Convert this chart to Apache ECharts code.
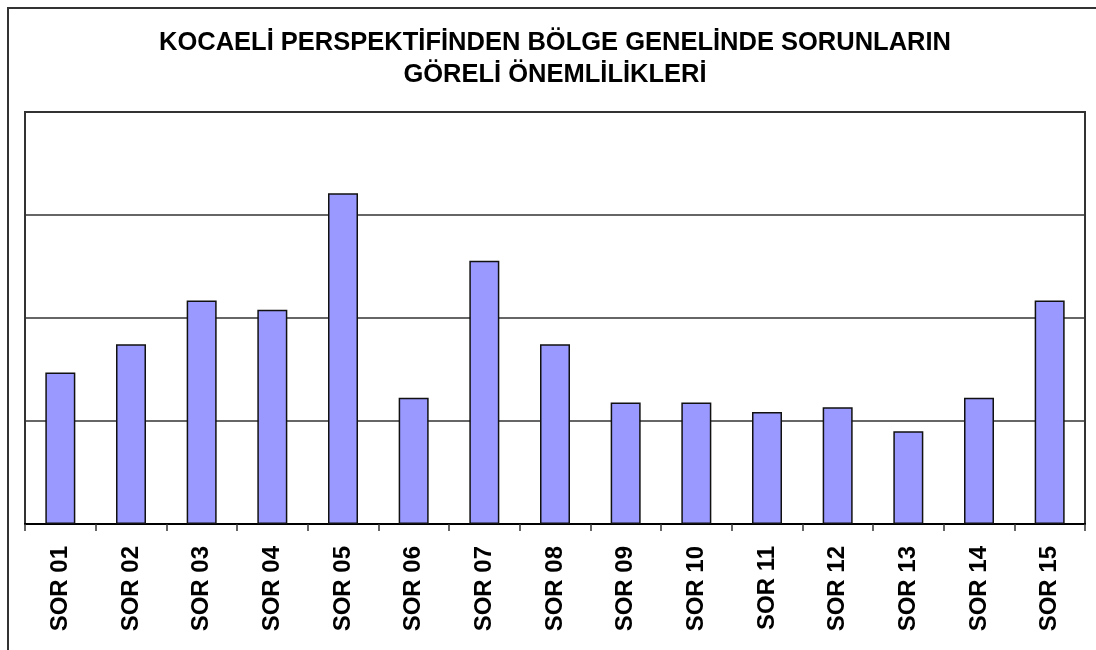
<!DOCTYPE html>
<html>
<head>
<meta charset="utf-8">
<script src="https://cdn.jsdelivr.net/npm/echarts@6/dist/echarts.min.js"></script>
<style>
  html, body { margin: 0; padding: 0; background: #fff; }
  #chart { width: 1096px; height: 650px; }
</style>
</head>
<body>
<div id="chart"></div>
<script>
const categories = ['SOR 01', 'SOR 02', 'SOR 03', 'SOR 04', 'SOR 05', 'SOR 06', 'SOR 07', 'SOR 08',
  'SOR 09', 'SOR 10', 'SOR 11', 'SOR 12', 'SOR 13', 'SOR 14', 'SOR 15']
const values = [1.47, 1.745, 2.17, 2.08, 3.21, 1.226, 2.556, 1.745, 1.18, 1.18, 1.087, 1.133, 0.90, 1.226, 2.17]
const titleText = 'KOCAELİ PERSPEKTİFİNDEN BÖLGE GENELİNDE SORUNLARIN\nGÖRELİ ÖNEMLİLİKLERİ'

const chart = echarts.init(document.getElementById('chart'))

const option = {
  backgroundColor: '#fff',
  animation: false,
  title: {
    text: titleText,
    left: 555,
    top: 27,
    padding: 0,
    textAlign: 'center',
    textStyle: {
      fontFamily: 'Liberation Sans, Arial, sans-serif',
      fontWeight: 'bold',
      fontSize: 25.5,
      lineHeight: 32,
      color: '#000'
    }
  },
  graphic: [{
    type: 'rect',
    silent: true,
    shape: { x: 8, y: 8, width: 1200, height: 800 },
    style: { fill: 'none', stroke: '#333', lineWidth: 2 }
  }],
  grid: {
    left: 25, right: 11, top: 112, bottom: 126,
    show: true,
    backgroundColor: '#fff',
    borderColor: '#333',
    borderWidth: 2
  },
  xAxis: {
    type: 'category',
    data: categories,
    axisLine: { lineStyle: { color: '#000', width: 2 } },
    axisTick: { show: true, length: 7, lineStyle: { color: '#333', width: 1.5 } },
    axisLabel: {
      interval: 0,
      rotate: 90,
      margin: 22,
      fontFamily: 'Liberation Sans, Arial, sans-serif',
      fontWeight: 'bold',
      fontSize: 24,
      color: '#000'
    }
  },
  yAxis: {
    type: 'value',
    min: 0, max: 4, interval: 1,
    axisLabel: { show: false },
    axisLine: { show: false },
    axisTick: { show: false },
    splitLine: { lineStyle: { color: '#333', width: 1.5 } }
  },
  series: [{
    type: 'bar',
    data: values,
    barWidth: 30,
    itemStyle: {
      color: '#9999ff',
      borderColor: '#111',
      borderWidth: 1.5
    }
  }]
}

chart.setOption(option)
</script>
</body>
</html>
